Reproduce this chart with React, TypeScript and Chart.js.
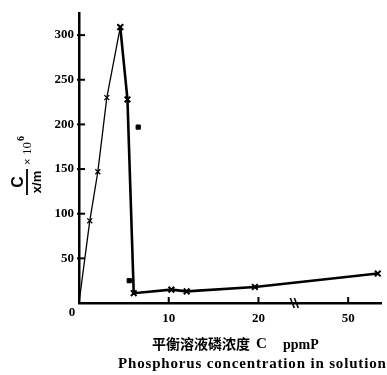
import React, { useEffect, useRef } from 'react';
import { Chart, registerables } from 'chart.js';

Chart.register(...registerables);

// Phosphorus concentration C (ppm P) vs C/(x/m) x 10^6
const thinX = [0, 1.2, 2.1, 3.1, 4.6];
const thinY = [0, 92, 147, 230, 309];
const thickX = [4.6, 5.4, 6.1, 10.3, 12.0, 19.6, 53.3];
const thickY = [309, 228, 11, 15, 13, 18, 33];
const squareX = [5.6, 6.6];
const squareY = [25, 197];
const xTickValues = [10, 20, 50];
const yTickValues = [50, 100, 150, 200, 250, 300];

// broken x axis: 20 ... 50 compressed
const BREAK_LOW = 20;
const BREAK_HIGH = 50;
const BREAK_GAP = 10;
const toAxis = (v: number) => (v <= BREAK_LOW ? v : v >= BREAK_HIGH ? BREAK_LOW + BREAK_GAP + (v - BREAK_HIGH) : BREAK_LOW + ((v - BREAK_LOW) / (BREAK_HIGH - BREAK_LOW)) * BREAK_GAP);
const fromAxis = (d: number) => (d <= BREAK_LOW ? d : d >= BREAK_LOW + BREAK_GAP ? d - BREAK_LOW - BREAK_GAP + BREAK_HIGH : d);

const pts = (xs: number[], ys: number[]) => xs.map((x, i) => ({ x: toAxis(x), y: ys[i] }));

const SERIF = '"Liberation Serif", "DejaVu Serif", serif';
const SANS = '"Liberation Sans", Arial, sans-serif';
const CJK = '"Noto Sans CJK SC", sans-serif';

const decorPlugin = {
  id: 'decor',
  afterDraw(chart: any) {
    const ctx = chart.ctx as CanvasRenderingContext2D;
    const xs = chart.scales.x;
    const ys = chart.scales.y;
    const area = chart.chartArea;
    ctx.save();
    ctx.strokeStyle = '#000';
    ctx.fillStyle = '#000';
    ctx.lineWidth = 2;
    // inward ticks
    yTickValues.forEach((v) => {
      const py = ys.getPixelForValue(v);
      ctx.beginPath();
      ctx.moveTo(area.left - 2, py);
      ctx.lineTo(area.left + 6, py);
      ctx.stroke();
    });
    xTickValues.forEach((v) => {
      const px = xs.getPixelForValue(toAxis(v));
      ctx.beginPath();
      ctx.moveTo(px, area.bottom);
      ctx.lineTo(px, area.bottom - 6);
      ctx.stroke();
    });
    // axis break
    const bx = xs.getPixelForValue(BREAK_LOW + BREAK_GAP * 0.4);
    ctx.lineWidth = 1.6;
    [-2, 2].forEach((o) => {
      ctx.beginPath();
      ctx.moveTo(bx + o - 2, area.bottom - 5);
      ctx.lineTo(bx + o + 2, area.bottom + 5);
      ctx.stroke();
    });
    // origin label
    ctx.font = `bold 13px ${SERIF}`;
    ctx.textAlign = 'center';
    ctx.textBaseline = 'middle';
    ctx.fillText('0', area.left - 7, area.bottom + 10);

    // y axis title (rotated fraction)
    ctx.save();
    ctx.translate(27, 182);
    ctx.rotate(-Math.PI / 2);
    ctx.textAlign = 'center';
    ctx.textBaseline = 'middle';
    ctx.font = `bold 16px ${SANS}`;
    ctx.fillText('C', 0, -8);
    ctx.font = `bold 13px ${SANS}`;
    ctx.fillText('x/m', 0, 10);
    ctx.lineWidth = 1.8;
    ctx.beginPath();
    ctx.moveTo(-13, 0);
    ctx.lineTo(13, 0);
    ctx.stroke();
    ctx.textAlign = 'left';
    ctx.font = `11px ${SANS}`;
    ctx.fillText('\u00d7', 17, 1);
    ctx.font = `13px ${SERIF}`;
    ctx.fillText('10', 27, 1);
    ctx.font = `bold 10px ${SERIF}`;
    ctx.fillText('6', 41, -6);
    ctx.restore();

    // x axis title
    ctx.textAlign = 'left';
    ctx.textBaseline = 'middle';
    ctx.font = `bold 14px ${CJK}`;
    ctx.fillText('平衡溶液磷浓度', 152, 344);
    ctx.font = `bold 15px ${SERIF}`;
    ctx.fillText('C', 256, 344);
    ctx.font = `bold 14px ${SERIF}`;
    ctx.fillText('ppmP', 283, 345);
    const eng = 'Phosphorus concentration in solution';
    ctx.font = `bold 15px ${SERIF}`;
    const w = ctx.measureText(eng).width;
    const spacing = Math.max(0, (268 - w) / (eng.length - 1));
    (ctx as any).letterSpacing = `${spacing.toFixed(2)}px`;
    ctx.fillText(eng, 118, 364);
    (ctx as any).letterSpacing = '0px';
    ctx.restore();
  },
};

export default function App() {
  const ref = useRef<HTMLCanvasElement | null>(null);
  useEffect(() => {
    if (!ref.current) return;
    const chart = new Chart(ref.current, {
      type: 'scatter',
      data: {
        datasets: [
          {
            label: 'thin',
            data: pts(thinX, thinY),
            showLine: true,
            borderColor: '#000',
            borderWidth: 1.3,
            pointStyle: 'crossRot',
            pointRadius: [0, 3.5, 3.5, 3.5, 4],
            pointBorderWidth: 1.3,
            pointBorderColor: '#000',
            clip: false,
          } as any,
          {
            label: 'thick',
            data: pts(thickX, thickY),
            showLine: true,
            borderColor: '#000',
            borderWidth: 2.6,
            pointStyle: 'crossRot',
            pointRadius: 4,
            pointBorderWidth: 2,
            pointBorderColor: '#000',
            clip: false,
          } as any,
          {
            label: 'square',
            data: pts(squareX, squareY),
            showLine: false,
            pointStyle: 'rect',
            pointRadius: 3,
            backgroundColor: '#000',
            borderColor: '#000',
            clip: false,
          } as any,
        ],
      },
      options: {
        animation: false,
        responsive: false,
        maintainAspectRatio: false,
        events: [],
        layout: { padding: { top: 10, right: 0, left: 0, bottom: 0 } },
        plugins: { legend: { display: false }, tooltip: { enabled: false }, title: { display: false } },
        scales: {
          x: {
            type: 'linear',
            min: 0,
            max: 33.66,
            grid: { display: false, drawTicks: false },
            border: { display: true, color: '#000', width: 2.5 },
            afterFit: (s: any) => { s.height = 72; },
            afterBuildTicks: (s: any) => { s.ticks = xTickValues.map((v) => ({ value: toAxis(v) })); },
            ticks: {
              padding: 8,
              color: '#000',
              font: { family: SERIF, size: 13, weight: 'bold' },
              callback: (v: any) => String(Math.round(fromAxis(Number(v)))),
            },
          },
          y: {
            type: 'linear',
            min: 0,
            max: 325,
            grid: { display: false, drawTicks: false },
            border: { display: true, color: '#000', width: 2.5 },
            afterFit: (s: any) => { s.width = 79; },
            afterBuildTicks: (s: any) => { s.ticks = yTickValues.map((v) => ({ value: v })); },
            ticks: {
              padding: 5,
              color: '#000',
              font: { family: SERIF, size: 13, weight: 'bold' },
            },
          },
        },
      } as any,
      plugins: [decorPlugin],
    });
    return () => chart.destroy();
  }, []);
  return (
    <div style={{ position: 'absolute', left: 0, top: 0, width: 387, height: 375, background: '#fff' }}>
      <canvas ref={ref} width={387} height={375} style={{ width: 387, height: 375, display: 'block' }} />
    </div>
  );
}
